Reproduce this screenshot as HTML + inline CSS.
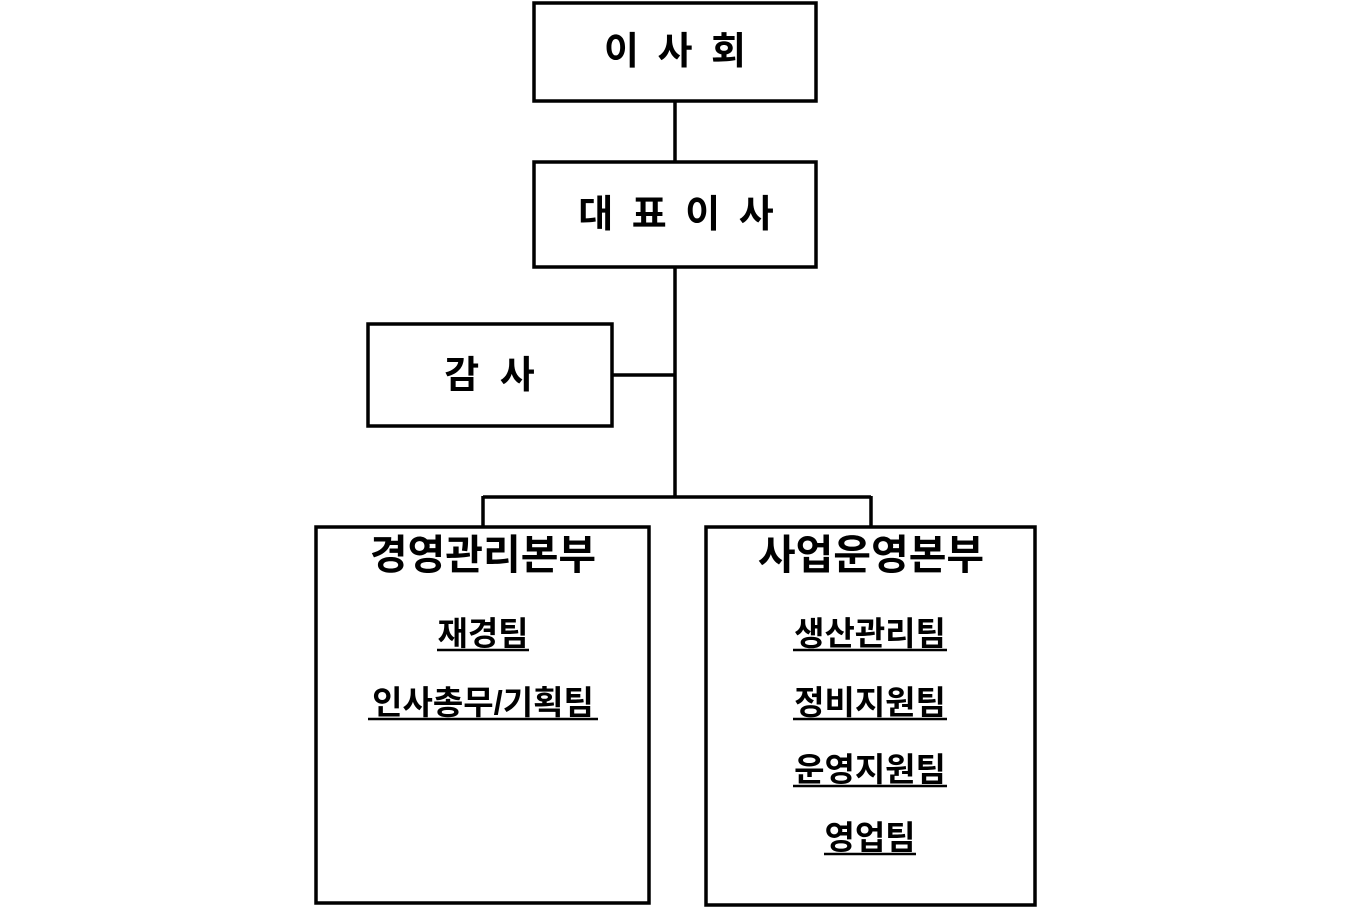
<!DOCTYPE html>
<html><head><meta charset="utf-8"><style>
html,body{margin:0;padding:0;background:#fff;}
svg{display:block;}
text{font-family:"Liberation Sans","Noto Sans CJK KR","NanumGothic",sans-serif;font-weight:bold;fill:#000;}
</style></head><body>
<svg width="1350" height="907" viewBox="0 0 1350 907" xmlns="http://www.w3.org/2000/svg">
<g fill="none" stroke="#000" stroke-width="3.5">
<rect x="534" y="3" width="282" height="98"/>
<rect x="534" y="162" width="282" height="105"/>
<rect x="368" y="324" width="244" height="102"/>
<rect x="316" y="527" width="333" height="376"/>
<rect x="706" y="527" width="329" height="378"/>
<line x1="675" y1="101" x2="675" y2="162"/>
<line x1="675" y1="267" x2="675" y2="498"/>
<line x1="612" y1="375" x2="675" y2="375"/>
<line x1="483" y1="497" x2="871" y2="497"/>
<line x1="483" y1="496" x2="483" y2="527"/>
<line x1="871" y1="496" x2="871" y2="527"/>
</g>
<text x="677" y="64" font-size="38" text-anchor="middle" letter-spacing="4">이 사 회</text>
<text x="678" y="227" font-size="38" text-anchor="middle" letter-spacing="4">대 표 이 사</text>
<text x="492" y="388" font-size="38" text-anchor="middle" letter-spacing="5">감 사</text>
<text x="483" y="569" font-size="41" text-anchor="middle">경영관리본부</text>
<text x="871" y="569" font-size="41" text-anchor="middle">사업운영본부</text>
<g font-size="33" text-anchor="middle">
<text x="483" y="645">재경팀</text>
<text x="483" y="714">인사총무/기획팀</text>
<text x="870" y="645">생산관리팀</text>
<text x="870" y="714">정비지원팀</text>
<text x="870" y="781">운영지원팀</text>
<text x="870" y="849">영업팀</text>
</g>
<g stroke="#000" stroke-width="2.5">
<line x1="437" y1="650" x2="529" y2="650"/>
<line x1="368" y1="719" x2="598" y2="719"/>
<line x1="793" y1="650" x2="947" y2="650"/>
<line x1="793" y1="719" x2="947" y2="719"/>
<line x1="793" y1="786" x2="947" y2="786"/>
<line x1="824" y1="854" x2="916" y2="854"/>
</g>
</svg>
</body></html>
